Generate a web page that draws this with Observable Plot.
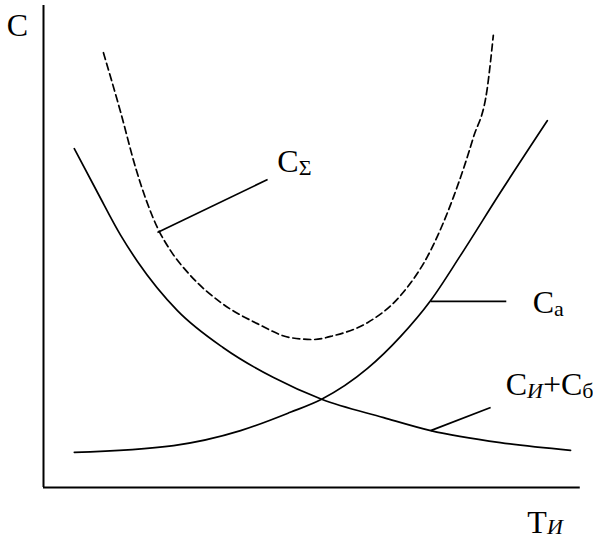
<!DOCTYPE html>
<html><head><meta charset="utf-8">
<script src="https://cdn.jsdelivr.net/npm/d3@7"></script>
<script src="https://cdn.jsdelivr.net/npm/@observablehq/plot@0.6"></script>
<style>body{margin:0;background:#fff}#chart svg{display:block}</style>
</head><body><div id="chart"></div>
<script>
// Cи+Cб (decreasing)
const ibT = [5.7, 10.0, 14.3, 17.4, 24.8, 33.3, 42.6, 51.5, 63.0, 71.7, 84.6, 97.6];
const ibC = [70.3, 61.2, 52.3, 46.9, 36.7, 29.0, 22.8, 18.3, 14.5, 11.8, 9.3, 7.7];
// Ca (increasing)
const aT = [5.7, 24.1, 36.5, 45.7, 51.5, 60.0, 66.1, 71.7, 77.2, 84.6, 93.3];
const aC = [7.3, 8.7, 11.8, 15.6, 18.3, 24.7, 31.3, 38.8, 48.1, 61.2, 76.1];
// CΣ (total, dashed)
const sumT = [11.1, 14.3, 17.2, 21.1, 23.5, 27.2, 32.8, 39.6, 45.7, 50.0, 53.7, 60.0, 66.1, 71.7, 75.9, 79.6, 82.2, 83.3];
const sumC = [90.2, 77.8, 65.8, 53.9, 49.2, 44.0, 38.4, 34.0, 31.1, 30.7, 31.5, 34.2, 39.8, 49.2, 60.2, 72.6, 83.0, 93.8];
// leader lines: [x1, y1, x2, y2]
const leaders = [
  [21.1, 52.9, 41.5, 63.9],
  [71.7, 38.6, 85.7, 38.6],
  [71.7, 11.8, 82.8, 16.6]
];
// labels: position and parts (0 normal, 1 subscript, 2 italic subscript)
const labelX = [-6.8, 43.3, 90.6, 85.6, 89.6];
const labelY = [93.6, 65.4, 36.1, 19.1, -9.5];
const labelParts = [
  [["C",0]],
  [["C",0],["Σ",1]],
  [["C",0],["a",1]],
  [["C",0],["И",2],["+C",0],["б",1]],
  [["T",0],["И",2]]
];

const toPts = (xs, ys) => xs.map((x, i) => ({x, y: ys[i]}));
const labels = labelX.map((x, i) => ({x, y: labelY[i], text: labelParts[i].map(p => p[0]).join("")}));
const lead = leaders.map(([x1, y1, x2, y2]) => ({x1, y1, x2, y2}));

const chart = Plot.plot({
  width: 593,
  height: 543,
  marginLeft: 43,
  marginRight: 10,
  marginTop: 5,
  marginBottom: 56,
  x: {domain: [0, 100], axis: null},
  y: {domain: [0, 100], axis: null},
  style: {background: "#fff"},
  marks: [
    Plot.ruleX([0], {y1: 0, y2: 100, stroke: "#000", strokeWidth: 2}),
    Plot.ruleY([0], {x1: 0, x2: 99.4, stroke: "#000", strokeWidth: 2}),
    Plot.line(toPts(ibT, ibC), {x: "x", y: "y", curve: "monotone-x", stroke: "#000", strokeWidth: 1.7}),
    Plot.line(toPts(aT, aC), {x: "x", y: "y", curve: "monotone-x", stroke: "#000", strokeWidth: 1.7}),
    Plot.line(toPts(sumT, sumC), {x: "x", y: "y", curve: "monotone-x", stroke: "#000", strokeWidth: 1.7, strokeDasharray: "7,4"}),
    Plot.link(lead, {x1: "x1", y1: "y1", x2: "x2", y2: "y2", stroke: "#000", strokeWidth: 1.7}),
    Plot.text(labels, {x: "x", y: "y", text: "text", textAnchor: "start", lineAnchor: "bottom",
      fontSize: 32, fontFamily: "Liberation Serif", fill: "#000", clip: false})
  ]
});

// rebuild label texts with subscripts
d3.select(chart).selectAll('g[aria-label="text"] text').each(function(d, i) {
  const t = d3.select(this);
  t.text(null);
  let shifted = 0;
  for (const [s, kind] of labelParts[i]) {
    const ts = t.append("tspan").text(s);
    if (kind) {
      const shift = i === 4 ? 1 : 3;
      ts.attr("font-size", 22).attr("dy", shift - shifted);
      if (kind === 2) ts.attr("font-style", "italic");
      shifted = shift;
    } else if (shifted) {
      ts.attr("dy", -shifted);
      shifted = 0;
    }
  }
});

document.getElementById("chart").appendChild(chart);
</script>
</body></html>
